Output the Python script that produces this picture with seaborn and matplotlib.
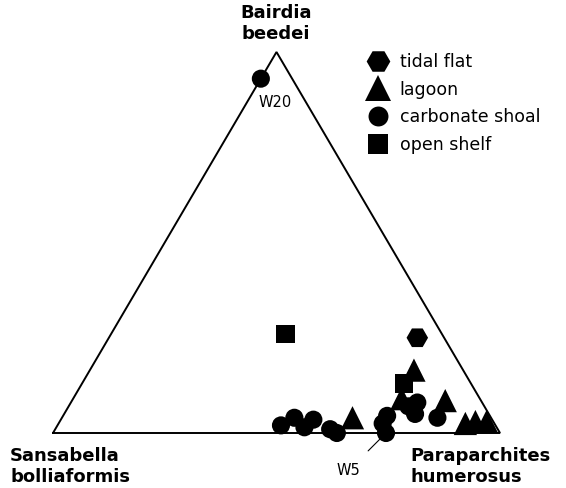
"""Ternary diagram of ostracode assemblages by depositional environment."""
import matplotlib
matplotlib.use("Agg")
import matplotlib.pyplot as plt
import numpy as np
import pandas as pd
import seaborn as sns

ENV_ORDER = ["tidal flat", "lagoon", "carbonate shoal", "open shelf"]
ENV_MARKERS = {"tidal flat": "H", "lagoon": "^", "carbonate shoal": "o", "open shelf": "s"}
ENV_SIZES = {"tidal flat": 240, "lagoon": 280, "carbonate shoal": 170, "open shelf": 180}

# percent of each species per sample
env = (["tidal flat"]
       + ["lagoon"] * 7
       + ["carbonate shoal"] * 14
       + ["open shelf"] * 2)
bairdia = [25,
           16.5, 9, 4, 8.5, 2.5, 3, 3,
           93, 2, 4, 1.5, 3.5, 1, 0, 4.5, 2.5, 0, 7, 8, 5, 4,
           26, 13]
sansabella = [6,
              11, 17.5, 31, 8, 6.5, 4, 1.5,
              7, 48, 44, 43, 40, 37.5, 36.5, 23, 25, 25.5, 17, 14.5, 16.5, 12,
              35, 15]
paraparchites = [69,
                 72.5, 73.5, 65, 83.5, 91, 93, 95.5,
                 0, 50, 52, 55.5, 56.5, 61.5, 63.5, 72.5, 72.5, 74.5, 76, 77.5, 78.5, 84,
                 39, 72]

W = 566
H = 488
TRI_H = 381 / 447  # apex height relative to base length


def to_xy(b, s, p):
    b = np.asarray(b) / 100.0
    p = np.asarray(p) / 100.0
    return p + 0.5 * b, b * TRI_H


df = pd.DataFrame({"env": env, "B": bairdia, "S": sansabella, "P": paraparchites})
df["x"], df["y"] = to_xy(df["B"], df["S"], df["P"])

sns.set_style("white")
plt.rcParams["font.family"] = ["DejaVu Sans"]
plt.rcParams["text.color"] = "black"

fig = plt.figure(figsize=(W / 100, H / 100), dpi=100)
ax = fig.add_axes([0, 0, 1, 1])
ax.set_xlim(-53 / 447, (W - 53) / 447)
ax.set_ylim(-(H - 433) / 447, 433 / 447)
ax.axis("off")

# triangle frame
corners_x, corners_y = to_xy([0, 0, 100, 0], [100, 0, 0, 100], [0, 100, 0, 0])
ax.plot(corners_x, corners_y, color="black", lw=1.4, solid_joinstyle="miter")

sns.scatterplot(
    data=df, x="x", y="y",
    hue="env", style="env", size="env",
    hue_order=ENV_ORDER, style_order=ENV_ORDER, size_order=ENV_ORDER,
    palette={e: "black" for e in ENV_ORDER},
    markers=ENV_MARKERS, sizes=ENV_SIZES,
    edgecolor="black", linewidth=0, alpha=1, ax=ax, zorder=3,
)

handles, labels = ax.get_legend_handles_labels()
ax.legend(handles, labels, loc="upper left", bbox_to_anchor=(366 / W, 1 - 53 / H),
          frameon=False, fontsize=12.5, markerscale=1.1, handlelength=1.4,
          handletextpad=0.55, labelspacing=0.55, borderpad=0, borderaxespad=0,
          labelcolor="black")

bold = dict(fontsize=13, fontweight="bold", color="black")
fig.text(276 / W, 1 - 4 / H, "Bairdia\nbeedei", ha="center", va="top",
         multialignment="center", linespacing=1.2, **bold)
fig.text(10 / W, 1 - 486 / H, "Sansabella\nbolliaformis", ha="left", va="bottom",
         multialignment="left", linespacing=1.2, **bold)
fig.text(410 / W, 1 - 486 / H, "Paraparchites\nhumerosus", ha="left", va="bottom",
         multialignment="left", linespacing=1.2, **bold)

# sample labels
w20 = df.iloc[8]
ax.annotate("W20", xy=(w20["x"], w20["y"]), xytext=(10, -17), textcoords="offset points",
            ha="center", va="center", fontsize=10.5)
w5 = df.iloc[17]
ax.annotate("W5", xy=(w5["x"], w5["y"]), xytext=(-27, -27), textcoords="offset points",
            ha="center", va="center", fontsize=10.5,
            arrowprops=dict(arrowstyle="-", color="black", lw=0.8, shrinkA=9, shrinkB=4))

fig.savefig("out.png", dpi=100)
